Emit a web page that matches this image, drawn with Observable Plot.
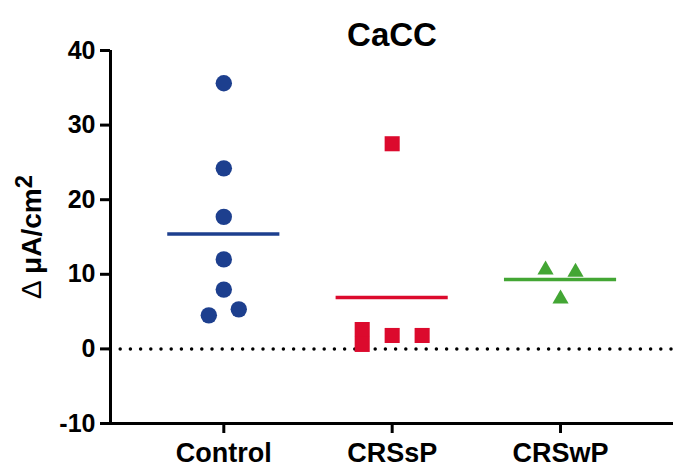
<!DOCTYPE html>
<html><head><meta charset="utf-8">
<script src="https://cdn.jsdelivr.net/npm/d3@7"></script>
<script src="https://cdn.jsdelivr.net/npm/@observablehq/plot@0.6"></script>
<style>body{margin:0;background:#fff;}</style>
</head><body><div id="chart"></div>
<script>
const categories = ["Control", "CRSsP", "CRSwP"];
const controlValues = [35.6, 24.2, 17.7, 12.0, 7.95, 4.5, 5.3];
const controlJitter = [0, 0, 0, 0, 0, -0.089, 0.089];
const crsspValues = [27.5, 2.6, 0.6, 1.8, 1.8];
const crsspJitter = [0, -0.178, -0.178, 0, 0.178];
const crswpValues = [10.6, 10.3, 6.7];
const crswpJitter = [-0.089, 0.089, 0];
const meanValues = [15.4, 6.9, 9.3];
const colors = ["#1d3f8e", "#dc0a2d", "#43a634"];
const symbols = ["circle", "square", "triangle"];
const yTicks = [-10, 0, 10, 20, 30, 40];

const groups = [
  [controlValues, controlJitter],
  [crsspValues, crsspJitter],
  [crswpValues, crswpJitter]
];
const pointsByGroup = groups.map(([vals, jit], gi) =>
  vals.map((v, i) => ({group: categories[gi], gi, x: gi + 1 + jit[i], value: v})));
const means = meanValues.map((m, gi) => ({group: categories[gi], gi, x1: gi + 1 - 0.333, x2: gi + 1 + 0.333, value: m}));

const xMin = 0.327, xMax = 3.671;
const font = "'Liberation Sans', Arial, sans-serif";
const dotRadius = [8.2, 8.5, 6.0];

const chart = Plot.plot({
  width: 680,
  height: 469,
  marginLeft: 110,
  marginRight: 7,
  marginTop: 50,
  marginBottom: 46,
  style: {fontFamily: font, fontWeight: "bold", background: "#fff", color: "#000"},
  x: {domain: [xMin, xMax], axis: null},
  y: {domain: [-10, 40], axis: null},
  color: {domain: categories, range: colors},
  symbol: {domain: categories, range: symbols},
  marks: [
    Plot.ruleY([0], {x1: xMin, x2: xMax, stroke: "#000", strokeWidth: 3.5, strokeDasharray: "0,10.2", strokeLinecap: "round"}),
    Plot.axisY({ticks: yTicks, tickSize: 10, tickPadding: 5, fontSize: 25, fontWeight: "bold", strokeWidth: 3, label: null, tickFormat: d => String(d)}),
    Plot.axisX({ticks: [1, 2, 3], tickFormat: d => categories[d - 1], tickSize: 10, tickPadding: 9, fontSize: 27, fontWeight: "bold", strokeWidth: 3, label: null}),
    Plot.ruleX([xMin], {y1: -10, y2: 40, stroke: "#000", strokeWidth: 3}),
    Plot.ruleY([-10], {x1: xMin, x2: xMax, stroke: "#000", strokeWidth: 3}),
    Plot.ruleY(means, {y: "value", x1: "x1", x2: "x2", stroke: "group", strokeWidth: 3.5}),
    ...pointsByGroup.map((pts, gi) =>
      Plot.dot(pts, {x: "x", y: "value", fill: "group", symbol: "group", r: dotRadius[gi], stroke: "none"})),
    Plot.text(["CaCC"], {frameAnchor: "top", dy: -28, fontSize: 33, fontWeight: "bold", fill: "#000"}),
    Plot.text(["Δ μA/cm2"], {frameAnchor: "left", textAnchor: "middle", dx: -78, dy: 0, rotate: -90, fontSize: 28, fontWeight: "bold", fill: "#000"})
  ]
});
document.getElementById("chart").appendChild(chart);

// rich y label: thin delta, superscript 2
d3.select(chart).selectAll("text").each(function() {
  if (this.textContent === "Δ μA/cm2") {
    const lab = d3.select(this);
    lab.text(null);
    lab.append("tspan").attr("font-weight", "normal").text("Δ ");
    lab.append("tspan").text("μA/cm");
    lab.append("tspan").attr("dy", "-0.4em").attr("font-size", "0.85em").text("2");
  }
});
</script>
</body></html>
